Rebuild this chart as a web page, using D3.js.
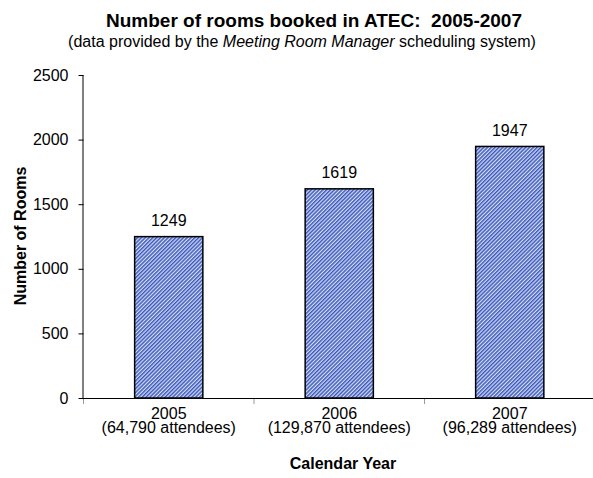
<!DOCTYPE html>
<html>
<head>
<meta charset="utf-8">
<script src="https://cdn.jsdelivr.net/npm/d3@7"></script>
<style>
  body { margin: 0; background: #fff; }
  svg { display: block; font-family: "Liberation Sans", Arial, sans-serif; }
</style>
</head>
<body>
<svg id="chart" width="593" height="478"></svg>
<script>
// Rooms booked per calendar year
const years = ["2005", "2006", "2007"];
const attendees = ["(64,790 attendees)", "(129,870 attendees)", "(96,289 attendees)"];
const rooms = [1249, 1619, 1947];
const yTicks = [0, 500, 1000, 1500, 2000, 2500];

const svg = d3.select("#chart");
const plot = { left: 83.5, right: 595, top: 75, bottom: 398 };
const FS = 16;

const x = d3.scaleBand().domain(years).range([plot.left, plot.right]).paddingInner(0).paddingOuter(0);
const y = d3.scaleLinear().domain([0, 2500]).range([plot.bottom, plot.top]);

// diagonal hatch fill
const defs = svg.append("defs");
const pat = defs.append("pattern")
  .attr("id", "hatch")
  .attr("patternUnits", "userSpaceOnUse")
  .attr("width", 2.7).attr("height", 10)
  .attr("patternTransform", "rotate(45)");
pat.append("rect").attr("width", 2.7).attr("height", 10).attr("fill", "#d5ddf7");
pat.append("rect").attr("width", 1.45).attr("height", 10).attr("fill", "#3a58b9");

// title
svg.append("text").attr("x", 314).attr("y", 27).attr("text-anchor", "middle")
  .attr("font-size", 19).attr("font-weight", "bold").attr("xml:space", "preserve")
  .text("Number of rooms booked in ATEC:  2005-2007");
const sub = svg.append("text").attr("x", 302).attr("y", 47).attr("text-anchor", "middle")
  .attr("font-size", FS);
sub.append("tspan").text("(data provided by the ");
sub.append("tspan").attr("font-style", "italic").text("Meeting Room Manager");
sub.append("tspan").text(" scheduling system)");

// bars
const barW = x.bandwidth() * 0.4;
svg.selectAll("rect.bar").data(rooms).join("rect")
  .attr("class", "bar")
  .attr("x", (d, i) => x(years[i]) + (x.bandwidth() - barW) / 2)
  .attr("y", d => y(d))
  .attr("width", barW)
  .attr("height", d => y(0) - y(d))
  .attr("fill", "url(#hatch)")
  .attr("stroke", "#000").attr("stroke-width", 1.5);

// value labels
svg.selectAll("text.val").data(rooms).join("text")
  .attr("class", "val")
  .attr("x", (d, i) => x(years[i]) + x.bandwidth() / 2)
  .attr("y", d => y(d) - 10.5)
  .attr("text-anchor", "middle").attr("font-size", FS)
  .text(d => d);

// y axis
const yAxis = svg.append("g").attr("transform", `translate(${plot.left},0)`)
  .call(d3.axisLeft(y).tickValues(yTicks).tickFormat(d3.format("d")).tickSize(5).tickPadding(10));
yAxis.selectAll("text").attr("font-size", FS).attr("fill", "#000").attr("font-family", null);
yAxis.select(".domain").attr("d", `M-0.5,${y(2500)}V${y(0)}`).attr("stroke", "#000");
yAxis.selectAll(".tick line").attr("stroke", "#000");

// x axis
const xAxis = svg.append("g").attr("transform", `translate(0,${y(0)})`)
  .call(d3.axisBottom(x).tickSize(0).tickFormat(""));
xAxis.select(".domain").attr("d", `M${plot.left - 0.5},0.5H${plot.right}`).attr("stroke", "#000");
// boundary ticks between categories
const bounds = years.map(d => x(d)).concat([x(years[2]) + x.bandwidth()]);
xAxis.selectAll("line.sep").data(bounds).join("line")
  .attr("class", "sep")
  .attr("x1", d => d).attr("x2", d => d)
  .attr("y1", 1).attr("y2", 6).attr("stroke", "#999");

// category labels
years.forEach((yr, i) => {
  const cx = x(yr) + x.bandwidth() / 2;
  svg.append("text").attr("x", cx).attr("y", 419).attr("text-anchor", "middle")
    .attr("font-size", FS).text(yr);
  svg.append("text").attr("x", cx).attr("y", 433).attr("text-anchor", "middle")
    .attr("font-size", FS).text(attendees[i]);
});

// axis titles
svg.append("text").attr("x", 343).attr("y", 469).attr("text-anchor", "middle")
  .attr("font-size", FS).attr("font-weight", "bold").text("Calendar Year");
svg.append("text").attr("transform", "translate(26,236) rotate(-90)")
  .attr("text-anchor", "middle").attr("font-size", FS).attr("font-weight", "bold")
  .text("Number of Rooms");
</script>
</body>
</html>
